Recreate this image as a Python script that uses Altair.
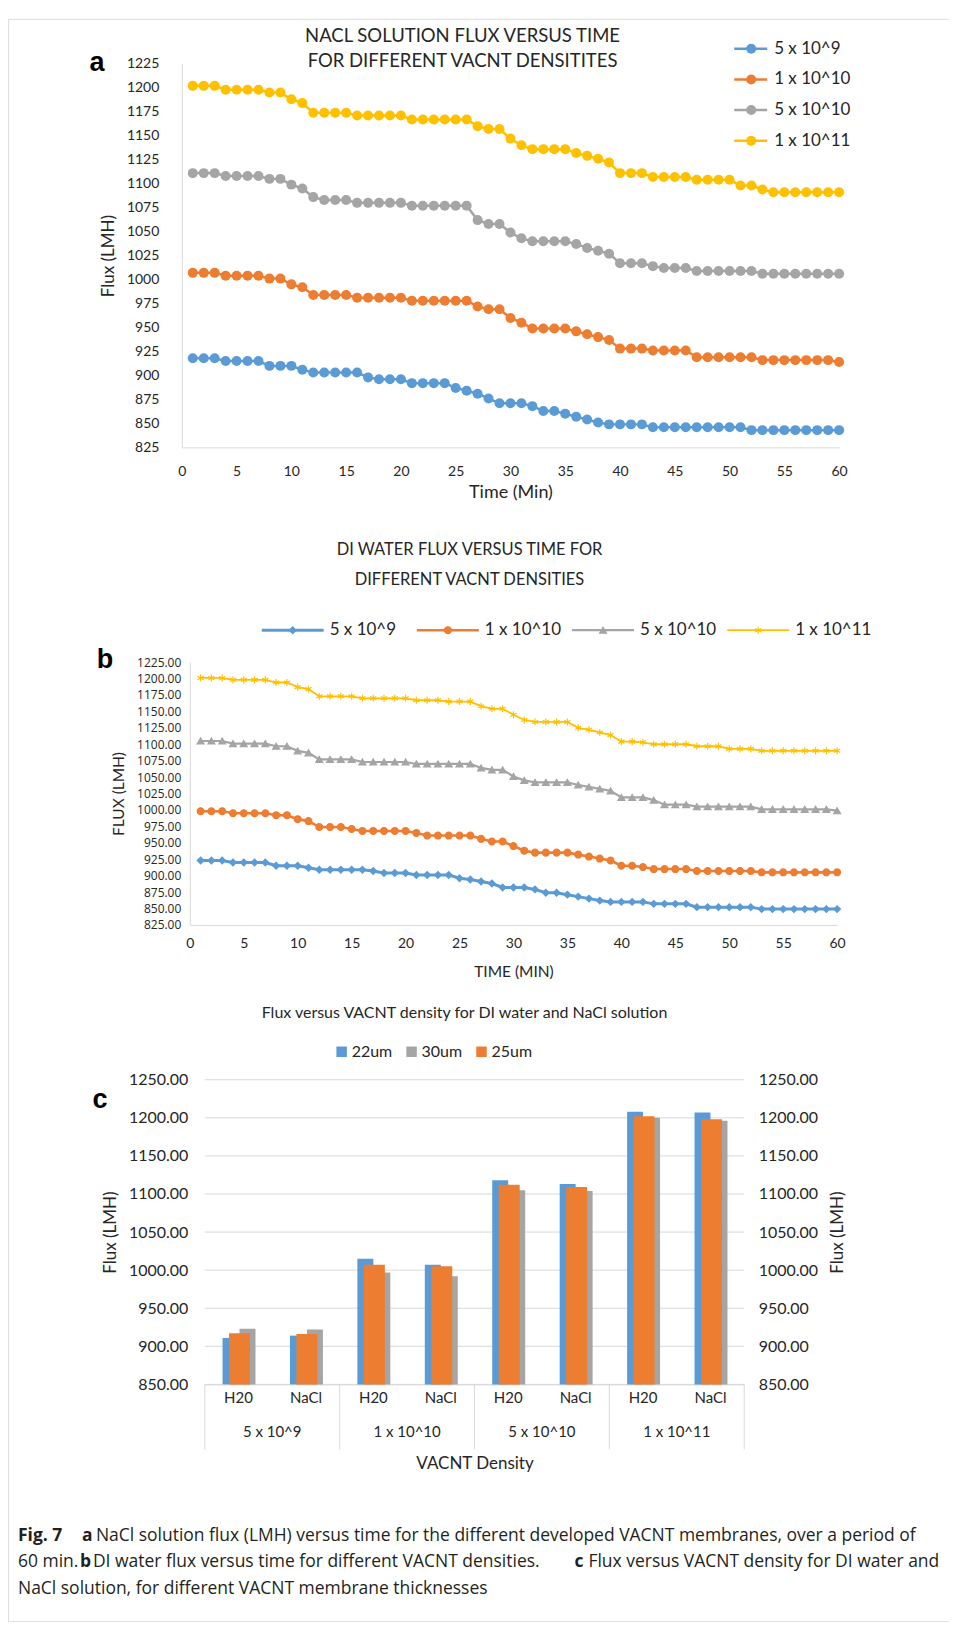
import altair as alt
import pandas as pd

# ---------------- data ----------------
time_min = list(range(1, 61))
series = ["5 x 10^9", "1 x 10^10", "5 x 10^10", "1 x 10^11"]

nacl_5e9 = [918, 918, 918, 915, 915, 915, 915, 910, 910, 910,
            906, 903, 903, 903, 903, 903, 898, 896, 896, 896,
            892, 892, 892, 892, 887, 884, 881, 876, 871, 871,
            871, 868, 863, 863, 860, 857, 854, 851, 849, 849,
            849, 849, 846, 846, 846, 846, 846, 846, 846, 846,
            846, 843, 843, 843, 843, 843, 843, 843, 843, 843]
nacl_1e10 = [1007, 1007, 1007, 1004, 1004, 1004, 1004, 1001, 1001, 995,
             992, 984, 984, 984, 984, 981, 981, 981, 981, 981,
             978, 978, 978, 978, 978, 978, 972, 969, 969, 960,
             955, 949, 949, 949, 949, 946, 943, 940, 937, 928,
             928, 928, 926, 926, 926, 926, 919, 919, 919, 919,
             919, 919, 916, 916, 916, 916, 916, 916, 916, 914]
nacl_5e10 = [1111, 1111, 1111, 1108, 1108, 1108, 1108, 1105, 1105, 1099,
             1095, 1086, 1083, 1083, 1083, 1080, 1080, 1080, 1080, 1080,
             1077, 1077, 1077, 1077, 1077, 1077, 1062, 1058, 1058, 1049,
             1043, 1040, 1040, 1040, 1040, 1037, 1033, 1030, 1027, 1017,
             1017, 1017, 1014, 1012, 1012, 1012, 1009, 1009, 1009, 1009,
             1009, 1009, 1006, 1006, 1006, 1006, 1006, 1006, 1006, 1006]
nacl_1e11 = [1202, 1202, 1202, 1198, 1198, 1198, 1198, 1195, 1195, 1188,
             1184, 1174, 1174, 1174, 1174, 1171, 1171, 1171, 1171, 1171,
             1167, 1167, 1167, 1167, 1167, 1167, 1160, 1157, 1157, 1147,
             1140, 1136, 1136, 1136, 1136, 1132, 1129, 1126, 1122, 1111,
             1111, 1111, 1107, 1107, 1107, 1107, 1104, 1104, 1104, 1104,
             1098, 1098, 1094, 1091, 1091, 1091, 1091, 1091, 1091, 1091]

di_5e9 = [923, 923, 923, 920, 920, 920, 920, 915, 915, 915,
          912, 909, 909, 909, 909, 909, 907, 904, 904, 904,
          901, 901, 901, 901, 896, 894, 891, 888, 882, 882,
          882, 879, 874, 874, 871, 868, 865, 862, 860, 860,
          860, 860, 857, 857, 857, 857, 852, 852, 852, 852,
          852, 852, 849, 849, 849, 849, 849, 849, 849, 849]
di_1e10 = [998, 998, 998, 995, 995, 995, 995, 992, 992, 986,
           983, 974, 974, 974, 971, 968, 968, 968, 968, 968,
           965, 961, 961, 961, 961, 961, 956, 952, 952, 945,
           938, 935, 935, 935, 935, 932, 929, 926, 923, 915,
           915, 913, 910, 910, 910, 910, 907, 907, 907, 907,
           907, 907, 905, 905, 905, 905, 905, 905, 905, 905]
di_5e10 = [1105, 1105, 1105, 1101, 1101, 1101, 1101, 1097, 1097, 1090,
           1087, 1077, 1077, 1077, 1077, 1073, 1073, 1073, 1073, 1073,
           1070, 1070, 1070, 1070, 1070, 1070, 1064, 1061, 1061, 1051,
           1045, 1042, 1042, 1042, 1042, 1038, 1035, 1032, 1029, 1019,
           1019, 1019, 1015, 1008, 1008, 1008, 1005, 1005, 1005, 1005,
           1005, 1005, 1001, 1001, 1001, 1001, 1001, 1001, 1001, 999]
di_1e11 = [1201, 1201, 1201, 1198, 1198, 1198, 1198, 1194, 1194, 1187,
           1184, 1173, 1173, 1173, 1173, 1170, 1170, 1170, 1170, 1170,
           1167, 1167, 1167, 1165, 1165, 1165, 1158, 1154, 1154, 1145,
           1137, 1134, 1134, 1134, 1134, 1125, 1122, 1118, 1114, 1104,
           1104, 1103, 1100, 1100, 1100, 1100, 1097, 1097, 1097, 1093,
           1093, 1093, 1090, 1090, 1090, 1090, 1090, 1090, 1090, 1090]

densities = ["5 x 10^9", "1 x 10^10", "5 x 10^10", "1 x 10^11"]
media = ["H20", "NaCl"]
thickness = ["22um", "30um", "25um"]
flux_22um = [911, 914, 1015, 1007, 1118, 1113, 1208, 1207]
flux_30um = [923, 922, 997, 992, 1105, 1104, 1200, 1196]
flux_25um = [917, 916, 1007, 1005, 1112, 1109, 1202, 1198]

ticks_time = list(range(0, 61, 5))
ticks_flux_ab = list(range(825, 1226, 25))
ticks_flux_c = list(range(850, 1251, 50))

# ---------------- styling ----------------
colors = ["#5b9bd5", "#ed7d31", "#a5a5a5", "#ffc000"]
bar_colors = ["#5b9bd5", "#a5a5a5", "#ed7d31"]
NARROW = "Lato"
SANS = "Open Sans"
TXT = "#262626"
AXC = "#d9d9d9"
W, H = 942, 1604


def long_df(arrs):
    rows = []
    for s, arr in zip(series, arrs):
        for t, v in zip(time_min, arr):
            rows.append({"t": t, "flux": v, "series": s})
    return pd.DataFrame(rows)


def txt(s, x, y, **kw):
    return alt.Chart(pd.DataFrame({"s": [s]})).mark_text(**kw).encode(
        x=alt.value(x), y=alt.value(y), text="s:N")


col = alt.Scale(domain=series, range=colors)
layers = []

# ---------------- panel a ----------------
dfa = long_df([nacl_5e9, nacl_1e10, nacl_5e10, nacl_1e11])
xa = alt.Scale(domain=[0, 60], range=[174, 832], nice=False, zero=False)
ya = alt.Scale(domain=[825, 1225], range=[429, 45], nice=False, zero=False)

layers.append(alt.Chart(dfa).mark_line(strokeWidth=2.5).encode(
    x=alt.X("t:Q", scale=xa, axis=alt.Axis(
        orient="bottom", offset=-(H - 429), values=ticks_time, title="Time (Min)",
        format="d", grid=False, ticks=False, tickSize=0, domainColor=AXC,
        labelFont=NARROW, labelFontSize=14, labelColor=TXT, labelPadding=17,
        labelFlush=False, titleFont=NARROW, titleFontSize=18,
        titleFontWeight="normal", titleColor=TXT, titlePadding=5)),
    y=alt.Y("flux:Q", scale=ya, axis=alt.Axis(
        orient="left", offset=-174, values=ticks_flux_ab, title="Flux (LMH)",
        format="d", grid=False, ticks=False, tickSize=0, domainColor=AXC,
        labelFont=NARROW, labelFontSize=14, labelColor=TXT, labelPadding=23,
        titleFont=NARROW, titleFontSize=17, titleFontWeight="normal",
        titleColor=TXT, titlePadding=9)),
    color=alt.Color("series:N", scale=col, legend=None),
))
layers.append(alt.Chart(dfa).mark_circle(size=100, opacity=1).encode(
    x=alt.X("t:Q", scale=xa, axis=None),
    y=alt.Y("flux:Q", scale=ya, axis=None),
    color=alt.Color("series:N", scale=col, legend=None),
))
leg = pd.DataFrame({"series": series})
leg_a_y = alt.Scale(type="point", domain=series, range=[30, 122], padding=0)
layers.append(alt.Chart(leg).mark_rule(strokeWidth=2.5).encode(
    y=alt.Y("series:N", scale=leg_a_y, axis=None),
    x=alt.value(727), x2=alt.value(760),
    color=alt.Color("series:N", scale=col, legend=None)))
layers.append(alt.Chart(leg).mark_circle(size=100, opacity=1).encode(
    y=alt.Y("series:N", scale=leg_a_y, axis=None), x=alt.value(744),
    color=alt.Color("series:N", scale=col, legend=None)))
layers.append(alt.Chart(leg).mark_text(align="left", baseline="middle", font=NARROW,
                                        fontSize=17, color=TXT).encode(
    y=alt.Y("series:N", scale=leg_a_y, axis=None), x=alt.value(767), text="series:N"))
layers.append(txt("NACL SOLUTION FLUX VERSUS TIME", 455, 17, font=NARROW, fontSize=18.5,
                  color=TXT, baseline="middle"))
layers.append(txt("FOR DIFFERENT VACNT DENSITITES", 455, 42, font=NARROW, fontSize=18.5,
                  color=TXT, baseline="middle"))
layers.append(txt("a", 89, 44, font="Liberation Sans", fontSize=27, fontWeight="bold",
                  color="#000", baseline="middle"))

# ---------------- panel b ----------------
dfb = long_df([di_5e9, di_1e10, di_5e10, di_1e11])
xb = alt.Scale(domain=[0, 60], range=[182, 830], nice=False, zero=False)
yb = alt.Scale(domain=[825, 1225], range=[907, 644], nice=False, zero=False)
sw = alt.Scale(domain=series, range=[3, 1.8, 1.8, 1.8])
asterisk = "M0,-1L0,1M-0.87,-0.5L0.87,0.5M-0.87,0.5L0.87,-0.5"
shp = alt.Scale(domain=series, range=["diamond", "circle", "triangle-up", asterisk])
msize = alt.Scale(domain=series, range=[45, 50, 50, 70])

layers.append(alt.Chart(dfb).mark_line().encode(
    x=alt.X("t:Q", scale=xb, axis=alt.Axis(
        orient="bottom", offset=-(H - 907), values=ticks_time, title="TIME (MIN)",
        format="d", grid=False, ticks=False, tickSize=0, domainColor=AXC,
        labelFont=NARROW, labelFontSize=14, labelColor=TXT, labelPadding=12,
        labelFlush=False, titleFont=NARROW, titleFontSize=15.5,
        titleFontWeight="normal", titleColor=TXT, titlePadding=14)),
    y=alt.Y("flux:Q", scale=yb, axis=alt.Axis(
        orient="left", offset=-182, values=ticks_flux_ab, title="FLUX (LMH)",
        format=".2f", grid=False, ticks=False, tickSize=0, domainColor=AXC,
        labelFont=SANS, labelFontSize=12, labelColor=TXT, labelPadding=9,
        titleFont=NARROW, titleFontSize=15.5, titleFontWeight="normal",
        titleColor=TXT, titlePadding=10)),
    color=alt.Color("series:N", scale=col, legend=None),
    strokeWidth=alt.StrokeWidth("series:N", scale=sw, legend=None),
))
layers.append(alt.Chart(dfb).mark_point(filled=True, opacity=1, strokeWidth=1.2).encode(
    x=alt.X("t:Q", scale=xb, axis=None),
    y=alt.Y("flux:Q", scale=yb, axis=None),
    fill=alt.Fill("series:N", scale=col, legend=None),
    stroke=alt.Stroke("series:N", scale=col, legend=None),
    shape=alt.Shape("series:N", scale=shp, legend=None),
    size=alt.Size("series:N", scale=msize, legend=None),
))
leg_b_x = alt.Scale(type="point", domain=series, range=[254, 720], padding=0)
layers.append(alt.Chart(leg).mark_rule(x2Offset=62).encode(
    x=alt.X("series:N", scale=leg_b_x, axis=None), x2=alt.X2("series:N"),
    y=alt.value(612),
    color=alt.Color("series:N", scale=col, legend=None),
    strokeWidth=alt.StrokeWidth("series:N", scale=sw, legend=None)))
layers.append(alt.Chart(leg).mark_point(filled=True, opacity=1, strokeWidth=1.2,
                                         xOffset=31).encode(
    x=alt.X("series:N", scale=leg_b_x, axis=None), y=alt.value(612),
    fill=alt.Fill("series:N", scale=col, legend=None),
    stroke=alt.Stroke("series:N", scale=col, legend=None),
    shape=alt.Shape("series:N", scale=shp, legend=None),
    size=alt.Size("series:N", scale=msize, legend=None)))
layers.append(alt.Chart(leg).mark_text(align="left", baseline="middle", font=NARROW,
                                        fontSize=17, color=TXT, xOffset=68).encode(
    x=alt.X("series:N", scale=leg_b_x, axis=None), y=alt.value(612), text="series:N"))
layers.append(txt("DI WATER FLUX VERSUS TIME FOR", 462, 532, font=NARROW, fontSize=16.5,
                  color=TXT, baseline="middle"))
layers.append(txt("DIFFERENT VACNT DENSITIES", 462, 562, font=NARROW, fontSize=16.5,
                  color=TXT, baseline="middle"))
layers.append(txt("b", 97, 642, font="Liberation Sans", fontSize=27, fontWeight="bold",
                  color="#000", baseline="middle"))

# ---------------- panel c ----------------
cats = [f"{d}|{m}" for d in densities for m in media]
rows = []
for name, vals in zip(thickness, [flux_22um, flux_30um, flux_25um]):
    for c, v in zip(cats, vals):
        rows.append({"cat": c, "thick": name, "flux": v})
dfc = pd.DataFrame(rows)
xc = alt.Scale(type="band", domain=cats, range=[197, 737], paddingInner=0, paddingOuter=0)
yc = alt.Scale(domain=[850, 1250], range=[1367, 1062], nice=False, zero=False)
barcol = alt.Scale(domain=thickness, range=bar_colors)

grid = pd.DataFrame({"v": ticks_flux_c})
layers.append(alt.Chart(grid).mark_rule(color=AXC, strokeWidth=1).encode(
    y=alt.Y("v:Q", scale=yc, axis=None), x=alt.value(197), x2=alt.value(737)))

bar_geom = {"22um": (16, -8), "30um": (16, 9), "25um": (21, 1)}
for i, name in enumerate(["22um", "30um", "25um"]):
    wdt, off = bar_geom[name]
    xax = None
    yax = None
    if i == 0:
        xax = alt.Axis(orient="bottom", offset=-(H - 1367), title="VACNT Density",
                       labelExpr="split(datum.label, '|')[1]", labelAngle=0,
                       grid=False, ticks=False, tickSize=0, domainColor=AXC,
                       labelFont=NARROW, labelFontSize=15, labelColor=TXT, labelPadding=6,
                       titleFont=NARROW, titleFontSize=17, titleFontWeight="normal",
                       titleColor=TXT, titlePadding=50)
        yax = alt.Axis(orient="left", offset=-197, values=ticks_flux_c, title="Flux (LMH)",
                       format=".2f", grid=False, ticks=False, tickSize=0, domain=False,
                       labelFont=NARROW, labelFontSize=16, labelColor=TXT, labelPadding=17,
                       titleFont=NARROW, titleFontSize=17, titleFontWeight="normal",
                       titleColor=TXT, titlePadding=9)
    if i == 1:
        yax = alt.Axis(orient="right", offset=-(W - 737), values=ticks_flux_c,
                       title="Flux (LMH)", titleAngle=270, titleBaseline="top",
                       format=".2f", grid=False, ticks=False, tickSize=0, domain=False,
                       labelFont=NARROW, labelFontSize=16, labelColor=TXT, labelPadding=14,
                       titleFont=NARROW, titleFontSize=17, titleFontWeight="normal",
                       titleColor=TXT, titlePadding=12)
    layers.append(alt.Chart(dfc[dfc.thick == name]).mark_bar(width=wdt, xOffset=off).encode(
        x=alt.X("cat:N", scale=xc, axis=xax, sort=cats),
        y=alt.Y("flux:Q", scale=yc, axis=yax),
        y2=alt.datum(850),
        color=alt.Color("thick:N", scale=barcol, legend=None),
    ))

groups = pd.DataFrame({"cat": [f"{d}|H20" for d in densities], "label": densities})
layers.append(alt.Chart(groups).mark_text(font=NARROW, fontSize=15, color=TXT,
                                           baseline="middle").encode(
    x=alt.X("cat:N", scale=xc, bandPosition=1, axis=None, sort=cats),
    y=alt.value(1415), text="label:N"))
layers.append(alt.Chart(groups).mark_rule(color=AXC).encode(
    x=alt.X("cat:N", scale=xc, bandPosition=0, axis=None, sort=cats),
    y=alt.value(1367), y2=alt.value(1432)))
layers.append(alt.Chart(pd.DataFrame({"cat": [cats[-1]]})).mark_rule(color=AXC).encode(
    x=alt.X("cat:N", scale=xc, bandPosition=1, axis=None, sort=cats),
    y=alt.value(1367), y2=alt.value(1432)))

leg_c = pd.DataFrame({"thick": thickness})
leg_c_x = alt.Scale(type="point", domain=thickness, range=[334, 474], padding=0)
layers.append(alt.Chart(leg_c).mark_square(size=110, opacity=1).encode(
    x=alt.X("thick:N", scale=leg_c_x, axis=None), y=alt.value(1034),
    color=alt.Color("thick:N", scale=barcol, legend=None)))
layers.append(alt.Chart(leg_c).mark_text(align="left", baseline="middle", font=NARROW,
                                          fontSize=16, color=TXT, xOffset=10).encode(
    x=alt.X("thick:N", scale=leg_c_x, axis=None), y=alt.value(1034), text="thick:N"))
layers.append(txt("Flux versus VACNT density for DI water and NaCl solution", 457, 995,
                  font=NARROW, fontSize=16, color=TXT, baseline="middle"))
layers.append(txt("c", 92, 1082, font="Liberation Sans", fontSize=27, fontWeight="bold",
                  color="#000", baseline="middle"))

# ---------------- caption ----------------
CAP = dict(font=SANS, fontSize=17.5, color="#231f20", baseline="middle", align="left")
CAPB = dict(CAP, fontWeight="bold")
layers += [
    txt("Fig. 7", 10, 1519, **CAPB),
    txt("a", 74, 1519, **CAPB),
    txt("NaCl solution flux (LMH) versus time for the different developed VACNT membranes, over a period of",
        88, 1519, **CAP),
    txt("60 min.", 10, 1545, **CAP),
    txt("b", 72, 1545, **CAPB),
    txt("DI water flux versus time for different VACNT densities.", 85, 1545, **CAP),
    txt("c", 567, 1545, **CAPB),
    txt("Flux versus VACNT density for DI water and", 581, 1545, **CAP),
    txt("NaCl solution, for different VACNT membrane thicknesses", 10, 1572, **CAP),
]

chart = alt.layer(*layers).resolve_scale(
    x="independent", y="independent", color="independent", fill="independent",
    stroke="independent", shape="independent", strokeWidth="independent",
    size="independent",
).properties(
    width=W, height=H,
    padding={"left": 0, "top": 10, "right": 0, "bottom": 0},
    autosize=alt.AutoSizeParams(type="none"),
).configure_view(
    stroke="#3a3a3a", strokeWidth=1.3, cornerRadius=12
).configure(background="white")

chart.save("out.html", embed_options={"renderer": "svg", "actions": False})
